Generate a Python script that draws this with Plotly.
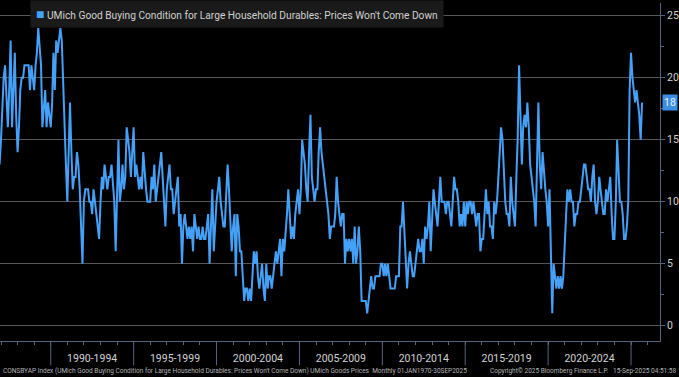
import plotly.graph_objects as go
import pandas as pd

# Monthly values, Nov 1986 .. Sep 2025 (percent)
vals_1986_1989 = [15, 13,
                  15, 18, 20, 21, 18, 16, 19, 23, 16, 19, 22, 17,
                  14, 16, 19, 20, 20, 21, 21, 21, 21, 19, 21, 20,
                  19, 21, 22, 24, 22, 21, 16, 18, 19, 16, 18, 17]
vals_1990s = [16, 18, 22, 19, 23, 22, 23, 24, 23, 19, 15, 13,
              10, 14, 18, 14, 11, 12, 12, 14, 13, 11, 8, 5,
              10, 11, 11, 11, 10, 10, 9, 11, 10, 9, 8, 7,
              10, 12, 11, 13, 12, 11, 12, 12, 13, 11, 10, 6,
              11, 15, 10, 11, 13, 11, 12, 16, 15, 14, 12, 14,
              16, 12, 13, 12, 11, 12, 11, 14, 12, 11, 10, 10,
              10, 12, 11, 13, 10, 11, 12, 13, 14, 12, 10, 8,
              11, 12, 13, 11, 11, 9, 10, 11, 12, 8, 9, 5,
              8, 9, 8, 7, 8, 7, 8, 6, 9, 8, 7, 8,
              7, 7, 8, 7, 7, 8, 9, 5, 8, 11, 6, 8]
vals_2000s = [10, 11, 12, 10, 9, 8, 8, 10, 13, 11, 9, 6,
              8, 9, 4, 9, 8, 6, 6, 4, 2, 3, 3, 2,
              3, 2, 4, 6, 5, 6, 4, 3, 4, 5, 3, 2,
              5, 3, 4, 4, 3, 4, 5, 6, 5, 6, 7, 4,
              7, 6, 8, 9, 11, 9, 7, 8, 7, 9, 10, 11,
              9, 11, 15, 14, 13, 11, 10, 14, 17, 12, 11, 10,
              11, 11, 14, 16, 14, 13, 12, 11, 10, 9, 7, 8,
              8, 8, 9, 12, 10, 9, 8, 9, 9, 5, 7, 6,
              7, 6, 7, 5, 8, 5, 6, 8, 6, 2, 2, 2,
              2, 1, 2, 3, 4, 3, 3, 4, 4, 4, 4, 5]
vals_2010s = [5, 4, 5, 4, 5, 4, 3, 3, 3, 3, 4, 4,
              4, 8, 8, 10, 8, 5, 3, 5, 6, 5, 4, 4,
              5, 6, 7, 6, 6, 7, 5, 8, 7, 8, 10, 6,
              9, 11, 10, 9, 8, 10, 12, 10, 10, 10, 9, 10,
              10, 9, 8, 10, 12, 11, 11, 10, 8, 9, 8, 10,
              8, 10, 9, 10, 10, 9, 10, 9, 8, 9, 9, 6,
              7, 7, 9, 11, 9, 10, 8, 8, 7, 10, 9, 10,
              12, 14, 16, 15, 12, 10, 9, 9, 8, 12, 10, 9,
              8, 12, 15, 21, 17, 13, 16, 17, 16, 18, 16, 13,
              12, 11, 10, 8, 12, 18, 13, 11, 14, 12, 11, 10]
vals_2020s = [8, 11, 6, 1, 5, 4, 3, 4, 3, 4, 3, 4,
              6, 9, 11, 10, 11, 10, 10, 8, 9, 9, 10, 10,
              11, 12, 13, 13, 12, 11, 11, 10, 12, 13, 10, 9,
              10, 12, 11, 10, 9, 9, 11, 10, 11, 12, 9, 7,
              7, 10, 15, 12, 10, 10, 9, 7, 7, 8, 10, 19,
              22, 20, 19, 18, 19, 18, 17, 15, 18]

values = vals_1986_1989 + vals_1990s + vals_2000s + vals_2010s + vals_2020s
dates = pd.date_range("1986-11-01", periods=len(values), freq="MS")

period_labels = ["1990-1994", "1995-1999", "2000-2004", "2005-2009",
                 "2010-2014", "2015-2019", "2020-2024"]
period_starts = [1990, 1995, 2000, 2005, 2010, 2015, 2020, 2025]
y_ticks = [0, 5, 10, 15, 20, 25]

series_name = "UMich Good Buying Condition for Large Household Durables: Prices Won't Come Down"
LINE = "#45a0f8"
AXIS = "#56647e"
TXT = "#d2d2d2"
FONT = "Roboto, Liberation Sans, Arial, sans-serif"

fig = go.Figure()
fig.add_trace(go.Scatter(x=dates, y=values, mode="lines",
                         line=dict(color=LINE, width=2), name=series_name,
                         showlegend=False))

mid_vals = [pd.Timestamp(f"{s + 2}-07-01") for s in period_starts[:-1]]

fig.update_layout(
    width=679, height=377,
    margin=dict(l=0, r=19, t=3, b=36, autoexpand=False),
    paper_bgcolor="black", plot_bgcolor="black",
    font=dict(family=FONT, color=TXT, size=10),
    xaxis=dict(
        range=[pd.Timestamp("1986-12-10"), pd.Timestamp("2026-10-01")],
        showgrid=False, zeroline=False, automargin=False,
        showline=True, linecolor=AXIS, linewidth=1,
        tickvals=mid_vals, ticktext=period_labels,
        ticks="", tickfont=dict(size=10.5, color=TXT),
        ticklabelstandoff=7,
        minor=dict(ticks="outside", ticklen=3, tickcolor=AXIS,
                   dtick="M12", tick0="1990-01-01", showgrid=False),
    ),
    yaxis=dict(
        side="right", range=[-1.23, 26.02], automargin=False,
        tickvals=y_ticks, ticks="outside", ticklen=4, tickcolor=AXIS,
        showgrid=True, gridcolor="#575757", gridwidth=1,
        zeroline=False, showline=True, linecolor=AXIS, linewidth=1,
        tickfont=dict(size=10.5, color=TXT),
        minor=dict(ticks="outside", ticklen=3, tickcolor=AXIS, dtick=2.5,
                   showgrid=False),
    ),
)

# period separators in the date band
for s in period_starts:
    fig.add_shape(type="line", xref="x", yref="paper",
                  x0=pd.Timestamp(f"{s}-01-01"), x1=pd.Timestamp(f"{s}-01-01"),
                  y0=0, y1=-0.072, line=dict(color=AXIS, width=1))

# legend box
fig.add_annotation(
    xref="paper", yref="paper", x=30 / 660, y=1.0089,
    xanchor="left", yanchor="top", showarrow=False,
    text=f"<span style='color:{LINE};font-size:14px'>■</span> {series_name}",
    font=dict(size=10.2, color=TXT, family=FONT),
    bgcolor="#1a1a1a", borderpad=5,
)

# last value tag
fig.add_annotation(
    xref="paper", yref="y", x=1.0, y=values[-1], xanchor="left",
    yanchor="middle", showarrow=False, text=str(values[-1]),
    font=dict(size=10.5, color="#eaf3ff", family=FONT),
    bgcolor="#3d8fe6", borderpad=1, xshift=2,
)

# footer
fy = -(371 - 341) / 338
FOOT = dict(size=6.5, color="#b4b4b4", family=FONT)
fig.add_annotation(xref="paper", yref="paper", x=1 / 660, y=fy, xanchor="left",
                   yanchor="middle", showarrow=False,
                   text="CONSBYAP Index (UMich Good Buying Condition for Large Household Durables: Prices Won't Come Down) UMich Goods Prices  Monthly 01JAN1970-30SEP2025",
                   font=FOOT)
fig.add_annotation(xref="paper", yref="paper", x=488 / 660, y=fy, xanchor="left",
                   yanchor="middle", showarrow=False,
                   text="Copyright© 2025 Bloomberg Finance L.P.",
                   font=FOOT)
fig.add_annotation(xref="paper", yref="paper", x=678 / 660, y=fy, xanchor="right",
                   yanchor="middle", showarrow=False,
                   text="15-Sep-2025 04:51:58",
                   font=FOOT)

fig.write_html("out.html",
               config={"displayModeBar": False},
               post_script="document.body.style.margin='0px';"
                           "document.body.style.background='black';")
